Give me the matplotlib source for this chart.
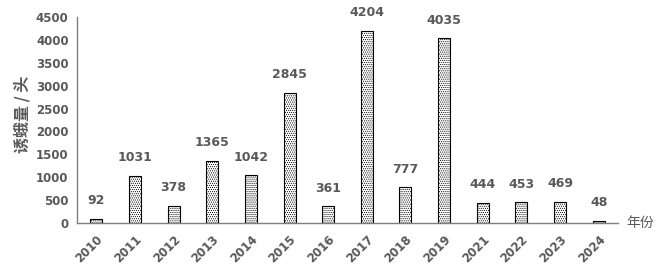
import matplotlib
matplotlib.use("Agg")
import matplotlib.pyplot as plt
import numpy as np

plt.rcParams['font.family'] = ['DejaVu Sans', 'Noto Sans CJK SC']
plt.rcParams['hatch.linewidth'] = 0.5

years = ['2010', '2011', '2012', '2013', '2014', '2015', '2016', '2017',
         '2018', '2019', '2021', '2022', '2023', '2024']
values = [92, 1031, 378, 1365, 1042, 2845, 361, 4204, 777, 4035, 444, 453, 469, 48]
yticks = [0, 500, 1000, 1500, 2000, 2500, 3000, 3500, 4000, 4500]

grey = '#595959'
fig = plt.figure(figsize=(6.57, 2.73), dpi=100)
ax = fig.add_axes([77/657, 50/273, (618-77)/657, (223-17)/273])

x = np.arange(len(years))
bars = ax.bar(x, values, width=0.31, color='white', edgecolor='black',
              linewidth=0.8, hatch='........')
for xi, v in zip(x, values):
    ax.text(xi, v + 250, f'{v}', ha='center', va='bottom', fontsize=9,
            color=grey, fontweight='bold')

ax.set_xlim(-0.5, len(years) - 0.5)
ax.set_ylim(0, 4500)
ax.set_yticks(yticks)
ax.set_xticks(x)
ax.set_xticklabels(years, rotation=45, ha='right', rotation_mode='anchor')
ax.tick_params(axis='both', length=0, colors=grey, labelsize=8.5)
for lbl in ax.get_xticklabels() + ax.get_yticklabels():
    lbl.set_fontweight('bold')
ax.tick_params(axis='x', pad=7)
ax.tick_params(axis='y', pad=6)

for s in ['top', 'right']:
    ax.spines[s].set_visible(False)
ax.spines['left'].set_color('#7f7f7f')
ax.spines['bottom'].set_color('#7f7f7f')
ax.spines['left'].set_linewidth(1.0)
ax.spines['bottom'].set_linewidth(1.0)

fig.text(22/657, 1 - 114/273, '诱蛾量 / 头', rotation=90, ha='center', va='center',
         fontsize=11.5, color=grey, fontweight='bold',
         family=['Noto Sans CJK SC', 'DejaVu Sans'])
fig.text(640/657, 1 - 223/273, '年份', ha='center', va='center',
         fontsize=10, color=grey, family=['Noto Sans CJK SC', 'DejaVu Sans'])

fig.savefig('out.png', dpi=100)
